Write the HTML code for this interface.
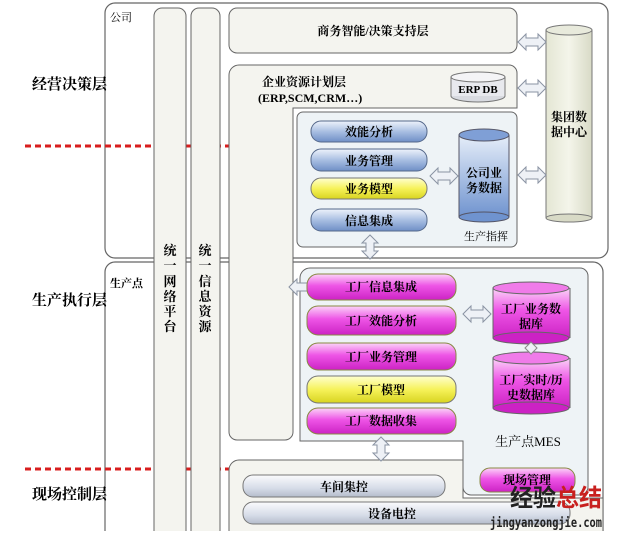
<!DOCTYPE html>
<html><head><meta charset="utf-8"><style>
body{margin:0;background:#fff;}
svg text{font-family:"Liberation Serif","Noto Serif CJK SC",serif;font-weight:bold;}
</style></head><body>
<svg width="640" height="531" viewBox="0 0 640 531" xmlns="http://www.w3.org/2000/svg">
<defs>
<linearGradient id="bl" x1="0" y1="0" x2="0" y2="1"><stop offset="0" stop-color="#eef3fb"/><stop offset="0.5" stop-color="#a9bfe2"/><stop offset="1" stop-color="#6f8fc6"/></linearGradient>
<linearGradient id="ye" x1="0" y1="0" x2="0" y2="1"><stop offset="0" stop-color="#ffffd0"/><stop offset="0.5" stop-color="#f6f25a"/><stop offset="1" stop-color="#d8d420"/></linearGradient>
<linearGradient id="pk" x1="0" y1="0" x2="0" y2="1"><stop offset="0" stop-color="#fbd4f8"/><stop offset="0.45" stop-color="#ee55e6"/><stop offset="1" stop-color="#cc22c4"/></linearGradient>
<linearGradient id="gr" x1="0" y1="0" x2="0" y2="1"><stop offset="0" stop-color="#fbfbfd"/><stop offset="0.6" stop-color="#d6dce8"/><stop offset="1" stop-color="#b4bccb"/></linearGradient>
<linearGradient id="cb" x1="0" y1="0" x2="0" y2="1"><stop offset="0" stop-color="#e6eef9"/><stop offset="1" stop-color="#6f93cf"/></linearGradient>
<linearGradient id="cg" x1="0" y1="0" x2="1" y2="0"><stop offset="0" stop-color="#e4e6d4"/><stop offset="0.5" stop-color="#f4f5ea"/><stop offset="1" stop-color="#d8dac6"/></linearGradient>
<g id="dar"><path d="M0,0 l8,-8 v4 h12 v-4 l8,8 l-8,8 v-4 h-12 v4 z" fill="#eef1f6" stroke="#8a93a3" stroke-width="1"/></g>
<g id="var"><path d="M0,0 l-8,8 h4 v8 h-4 l8,8 l8,-8 h-4 v-8 h4 z" fill="#eef1f6" stroke="#8a93a3" stroke-width="1"/></g>
</defs>
<!-- outer company -->
<rect x="105" y="3" width="503" height="255" rx="10" fill="#fff" stroke="#666" stroke-width="1.2"/>
<rect x="105" y="262" width="498" height="285" rx="10" fill="#fff" stroke="#666" stroke-width="1.2"/>
<g stroke="#d81e1e" stroke-width="3" stroke-dasharray="6,4">
<line x1="25" y1="146" x2="230" y2="146"/>
<line x1="25" y1="469" x2="230" y2="469"/>
</g>
<text x="110" y="21" font-size="11" style="font-weight:normal">公司</text>
<text x="110" y="287" font-size="11">生产点</text>
<text x="32" y="89" font-size="15">经营决策层</text>
<text x="32" y="305" font-size="15">生产执行层</text>
<text x="32" y="499" font-size="15">现场控制层</text>
<!-- columns -->
<rect x="154" y="8" width="32" height="540" rx="8" fill="#f4f4ef" stroke="#666"/>
<rect x="191" y="8" width="29" height="540" rx="8" fill="#f4f4ef" stroke="#666"/>
<g font-size="13" text-anchor="middle">
<text x="170" y="255">统</text><text x="170" y="270">一</text><text x="170" y="286">网</text><text x="170" y="301">络</text><text x="170" y="316">平</text><text x="170" y="331">台</text>
<text x="205" y="255">统</text><text x="205" y="270">一</text><text x="205" y="286">信</text><text x="205" y="301">息</text><text x="205" y="316">资</text><text x="205" y="331">源</text>
</g>
<!-- BI -->
<rect x="229" y="8" width="288" height="45" rx="8" fill="#f4f4ef" stroke="#666"/>
<text x="373" y="35" font-size="12" text-anchor="middle">商务智能/决策支持层</text>
<!-- ERP -->
<path d="M239,65 H509 a8,8 0 0 1 8,8 V108 H293 V432 a8,8 0 0 1 -8,8 H237 a8,8 0 0 1 -8,-8 V75 a10,10 0 0 1 10,-10 z" fill="#f4f4ef" stroke="#666"/>
<text x="262" y="86" font-size="12">企业资源计划层</text>
<text x="258" y="102" font-size="12">(ERP,SCM,CRM…)</text>
<ellipse cx="478" cy="96" rx="27" ry="6" fill="#d8dae0" stroke="#777"/>
<rect x="451" y="77" width="54" height="19" fill="#e8e9ee"/>
<line x1="451" y1="77" x2="451" y2="96" stroke="#777"/><line x1="505" y1="77" x2="505" y2="96" stroke="#777"/>
<ellipse cx="478" cy="77" rx="27" ry="5" fill="#f4f4f6" stroke="#777"/>
<text x="478" y="93" font-size="11" text-anchor="middle" font-family="Liberation Sans">ERP DB</text>
<!-- production command -->
<rect x="297" y="112" width="220" height="135" rx="6" fill="#eef3f6" stroke="#666"/>
<g font-size="12" text-anchor="middle">
<rect x="311" y="121" width="116" height="21" rx="10" fill="url(#bl)" stroke="#55688a"/><text x="369" y="136">效能分析</text>
<rect x="311" y="149" width="116" height="22" rx="10" fill="url(#bl)" stroke="#55688a"/><text x="369" y="165">业务管理</text>
<rect x="311" y="178" width="116" height="21" rx="10" fill="url(#ye)" stroke="#777"/><text x="369" y="193">业务模型</text>
<rect x="311" y="209" width="116" height="22" rx="10" fill="url(#bl)" stroke="#55688a"/><text x="369" y="225">信息集成</text>
</g>
<rect x="459" y="135" width="50" height="82" fill="url(#cb)"/>
<line x1="459" y1="135" x2="459" y2="217" stroke="#556"/><line x1="509" y1="135" x2="509" y2="217" stroke="#556"/>
<ellipse cx="484" cy="217" rx="25" ry="5" fill="#6f93cf" stroke="#556"/>
<ellipse cx="484" cy="135" rx="25" ry="6" fill="#7f9fd6" stroke="#556"/>
<text x="484" y="177" font-size="12" text-anchor="middle">公司业</text>
<text x="484" y="192" font-size="12" text-anchor="middle">务数据</text>
<text x="486" y="240" font-size="11" text-anchor="middle" style="font-weight:normal">生产指挥</text>
<use href="#dar" x="430" y="176"/>
<!-- group data center -->
<rect x="546" y="30" width="46" height="188" fill="url(#cg)"/>
<line x1="546" y1="30" x2="546" y2="218" stroke="#777"/><line x1="592" y1="30" x2="592" y2="218" stroke="#777"/>
<ellipse cx="569" cy="218" rx="23" ry="4" fill="#d8dac6" stroke="#777"/>
<ellipse cx="569" cy="30" rx="23" ry="5" fill="#e8eadc" stroke="#777"/>
<text x="569" y="121" font-size="12" text-anchor="middle">集团数</text>
<text x="569" y="136" font-size="12" text-anchor="middle">据中心</text>
<use href="#dar" x="518" y="42"/>
<use href="#dar" x="518" y="88"/>
<use href="#dar" x="518" y="175"/>
<use href="#var" x="370" y="235"/>
<!-- MES -->
<path d="M310,268 H580 a8,8 0 0 1 8,8 V487 a8,8 0 0 1 -8,8 H471 a8,8 0 0 1 -8,-8 V441 H300 V278 a10,10 0 0 1 10,-10 z" fill="#eef3f6" stroke="#666"/>
<use href="#dar" x="289" y="287"/>
<g font-size="12" text-anchor="middle">
<rect x="307" y="274" width="149" height="26" rx="11" fill="url(#pk)" stroke="#884"/><text x="381" y="291">工厂信息集成</text>
<rect x="307" y="306" width="149" height="29" rx="11" fill="url(#pk)" stroke="#884"/><text x="381" y="325">工厂效能分析</text>
<rect x="307" y="343" width="149" height="27" rx="11" fill="url(#pk)" stroke="#884"/><text x="381" y="361">工厂业务管理</text>
<rect x="307" y="376" width="149" height="27" rx="11" fill="url(#ye)" stroke="#777"/><text x="381" y="394">工厂模型</text>
<rect x="307" y="408" width="149" height="26" rx="11" fill="url(#pk)" stroke="#884"/><text x="381" y="425">工厂数据收集</text>
</g>
<use href="#dar" x="463" y="314"/>
<g>
<rect x="493" y="288" width="77" height="50" fill="url(#pk)"/>
<line x1="493" y1="288" x2="493" y2="338" stroke="#666"/><line x1="570" y1="288" x2="570" y2="338" stroke="#666"/>
<ellipse cx="531" cy="338" rx="38" ry="6" fill="#cc22c4" stroke="#666"/>
<ellipse cx="531" cy="288" rx="38" ry="6" fill="#f07be9" stroke="#666"/>
<text x="531" y="313" font-size="12" text-anchor="middle">工厂业务数</text>
<text x="531" y="328" font-size="12" text-anchor="middle">据库</text>
<rect x="493" y="358" width="77" height="50" fill="url(#pk)"/>
<line x1="493" y1="358" x2="493" y2="408" stroke="#666"/><line x1="570" y1="358" x2="570" y2="408" stroke="#666"/>
<ellipse cx="531" cy="408" rx="38" ry="6" fill="#cc22c4" stroke="#666"/>
<ellipse cx="531" cy="358" rx="38" ry="6" fill="#f07be9" stroke="#666"/>
<text x="531" y="384" font-size="12" text-anchor="middle">工厂实时/历</text>
<text x="531" y="399" font-size="12" text-anchor="middle">史数据库</text>
<path d="M531,342 l6,6 l-6,6 l-6,-6 z" fill="#eef1f6" stroke="#888"/>
</g>
<text x="528" y="446" font-size="13" text-anchor="middle" style="font-weight:normal">生产点MES</text>
<!-- field control -->
<path d="M239,460 H463 V498 H603 V548 H229 V470 a10,10 0 0 1 10,-10 z" fill="#f4f4ef" stroke="#666"/>
<use href="#var" x="381" y="437"/>
<rect x="243" y="475" width="202" height="22" rx="10" fill="url(#gr)" stroke="#777"/>
<text x="344" y="491" font-size="12" text-anchor="middle">车间集控</text>
<rect x="243" y="502" width="327" height="22" rx="10" fill="url(#gr)" stroke="#777"/>
<text x="392" y="518" font-size="12" text-anchor="middle">设备电控</text>
<rect x="480" y="468" width="95" height="24" rx="10" fill="url(#pk)" stroke="#884"/>
<text x="527" y="484" font-size="12" text-anchor="middle">现场管理</text>
<!-- watermark -->
<text x="510" y="506" font-size="24" textLength="92" lengthAdjust="spacingAndGlyphs" fill="#222" style="font-family:'Noto Sans CJK SC',sans-serif;font-weight:bold">经验<tspan fill="#c8201e">总结</tspan></text>
<text x="490" y="527" font-size="13" textLength="112" lengthAdjust="spacingAndGlyphs" fill="#222" style="font-family:'DejaVu Sans Mono',monospace;font-weight:bold">jingyanzongjie.com</text>
</svg>
</body></html>
